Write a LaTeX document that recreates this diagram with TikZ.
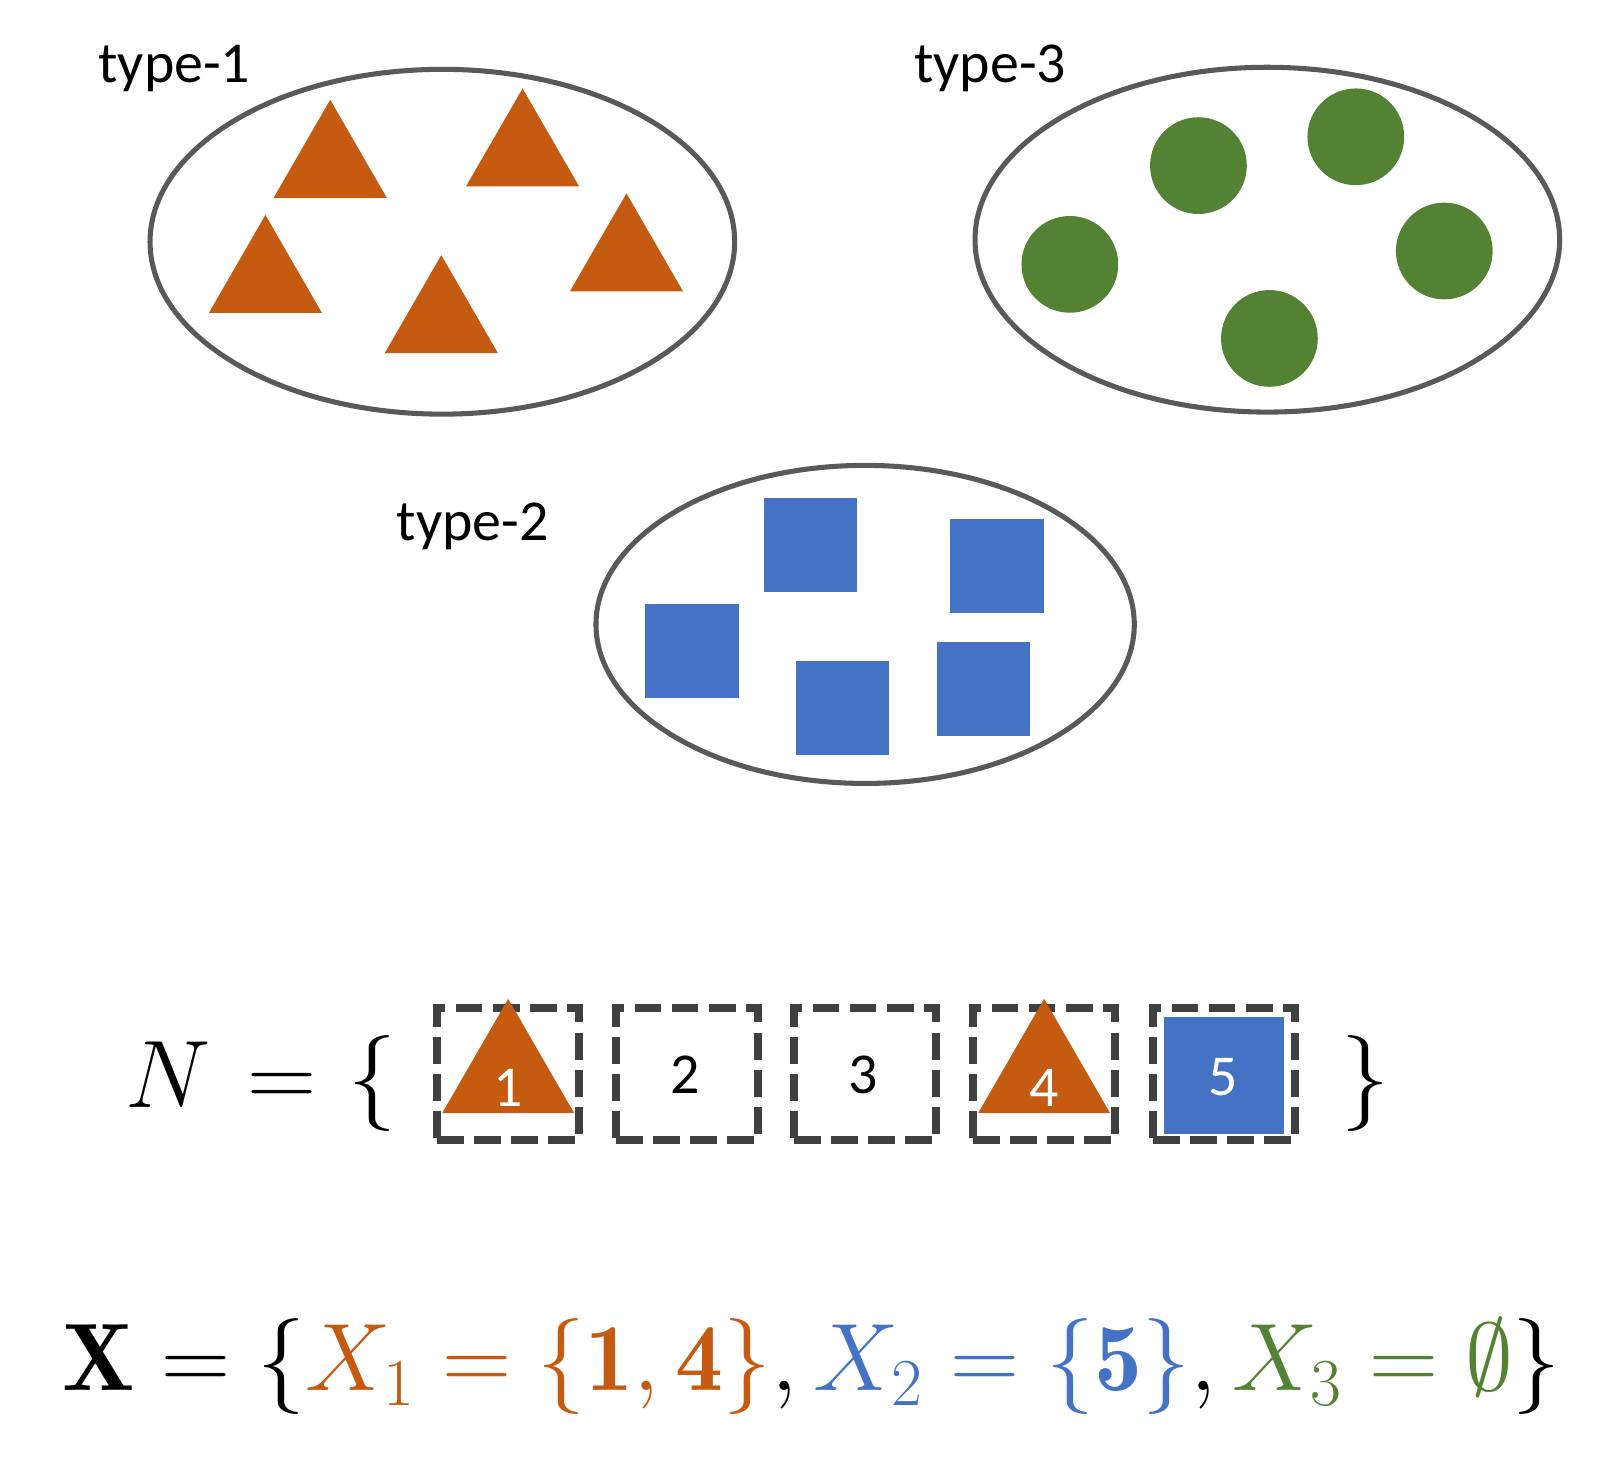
\RequirePackage{fix-cm}
\documentclass[tikz,border=0pt]{standalone}
\usepackage{fontspec}
\usepackage{amsmath,amssymb}
\usetikzlibrary{shapes.geometric}
\newfontfamily\labelfont{Carlito}
\definecolor{triorange}{HTML}{C55A11}
\definecolor{sqblue}{HTML}{4472C4}
\definecolor{ballgreen}{HTML}{548235}
\definecolor{rimgray}{HTML}{595959}
\definecolor{slotgray}{HTML}{404040}
\tikzset{
  typeset/.style={draw=rimgray, line width=1.4pt, shape=ellipse, inner sep=0pt},
  tri/.style={fill=triorange, shape=regular polygon, regular polygon sides=3, inner sep=0pt, minimum size=1.27cm},
  ball/.style={fill=ballgreen, shape=circle, inner sep=0pt, minimum size=0.94cm},
  sq/.style={fill=sqblue, shape=rectangle, inner sep=0pt, minimum size=0.91cm},
  typelabel/.style={font=\labelfont\fontsize{16}{19}\selectfont, inner sep=0pt},
  slot/.style={draw=slotgray, line width=2.1pt, dash pattern=on 0.26cm off 0.1cm, minimum width=1.38cm, minimum height=1.28cm, inner sep=0pt},
  slotnum/.style={font=\labelfont\fontsize{16}{19}\selectfont, inner sep=0pt},
  mathbig/.style={font=\fontsize{26.5}{32}\selectfont, inner sep=0pt},
}
\begin{document}
\begin{tikzpicture}[x=0.01cm, y=-0.01cm]
            \useasboundingbox (0,0) rectangle (1568,1434);

            % type-1
            \node[typeset, minimum width=5.68cm, minimum height=3.35cm] (set1) at (430,235) {};
            \node[typelabel, anchor=base west] (lab1) at (95,80) {type-1};
            \node[tri] (t1) at (321,160.5) {};
            \node[tri] (t2) at (508,149.5) {};
            \node[tri] (t3) at (258,272.5) {};
            \node[tri] (t4) at (429,311.5) {};
            \node[tri] (t5) at (609,251.5) {};

            % type-3
            \node[typeset, minimum width=5.68cm, minimum height=3.35cm] (set3) at (1232,233) {};
            \node[typelabel, anchor=base west] (lab3) at (888,80) {type-3};
            \node[ball] (c1) at (1165,161) {};
            \node[ball] (c2) at (1318,133) {};
            \node[ball] (c3) at (1040,257) {};
            \node[ball] (c4) at (1404,244) {};
            \node[ball] (c5) at (1234,329) {};

            % type-2
            \node[typeset, minimum width=5.23cm, minimum height=3.09cm] (set2) at (841,607) {};
            \node[typelabel, anchor=base west] (lab2) at (385,525) {type-2};
            \node[sq] (q1) at (788,530) {};
            \node[sq] (q2) at (969,550) {};
            \node[sq] (q3) at (673,633) {};
            \node[sq] (q4) at (819,688) {};
            \node[sq] (q5) at (956,670) {};

            % N
            \node[mathbig, anchor=base east] (Nlhs) at (386,1077) {$N\mkern2mu = \mkern1mu\{$};
            \node[slot] (s1) at (494,1044) {};
            \node[slot] (s2) at (668,1044) {};
            \node[slot] (s3) at (841,1044) {};
            \node[slot] (s4) at (1015,1044) {};
            \node[slot] (s5) at (1190,1044) {};
            \node[mathbig, anchor=base] (Nrhs) at (1327,1077) {$\}$};

            \node[tri, minimum size=1.48cm] (t6) at (494,1045) {};
            \node[tri, minimum size=1.48cm] (t7) at (1015,1045) {};
            \node[sq, minimum width=1.18cm, minimum height=1.15cm, draw=white, line width=0.5pt] (q6) at (1190,1045.5) {};

            \node[slotnum, text=white] (n1) at (494,1058) {1};
            \node[slotnum] (n2) at (666,1045) {2};
            \node[slotnum] (n3) at (839,1045) {3};
            \node[slotnum, text=white] (n4) at (1015,1058) {4};
            \node[slotnum, text=white] (n5) at (1189,1047) {5};

            % X
            \node[mathbig, anchor=base west] (Xset) at (60,1352) {$\mathbf{X} = \{\textcolor{triorange}{X_1 = \{\mathbf{1},\mathbf{4}\}}, \textcolor{sqblue}{X_2 = \{\mathbf{5}\}}, \textcolor{ballgreen}{X_3 = \emptyset}\}$};
\end{tikzpicture}
\end{document}
